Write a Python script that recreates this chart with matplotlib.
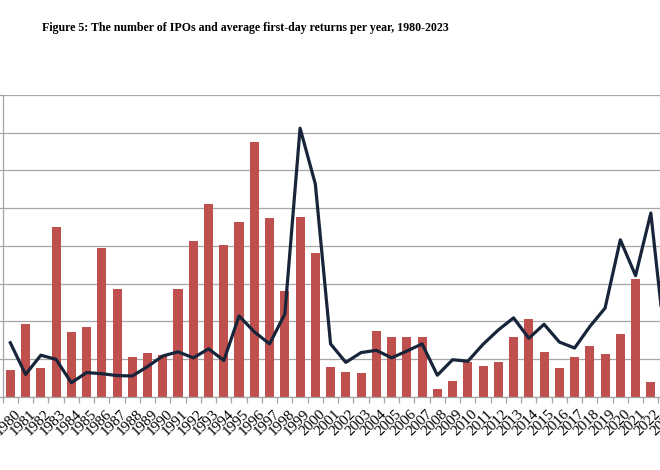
import numpy as np
import matplotlib
matplotlib.use("Agg")
import matplotlib.pyplot as plt
import matplotlib.transforms as mtransforms

years = list(range(1980, 2024))
n_ipos = [71, 192, 77, 451, 171, 186, 393, 285, 105, 116,
          110, 286, 412, 510, 402, 462, 675, 474, 281, 476,
          380, 80, 66, 63, 173, 159, 157, 159, 21, 41,
          91, 81, 93, 158, 206, 118, 75, 106, 134, 112,
          165, 311, 38, 54]
first_day = [14.3, 5.9, 11.0, 9.9, 3.7, 6.4, 6.1, 5.6, 5.5, 8.0,
             10.8, 11.9, 10.3, 12.7, 9.6, 21.4, 17.2, 14.0, 21.9, 71.2,
             56.4, 14.0, 9.1, 11.7, 12.3, 10.3, 12.1, 14.0, 5.7, 9.8,
             9.4, 13.9, 17.7, 20.9, 15.5, 19.2, 14.5, 12.9, 18.6, 23.5,
             41.6, 32.1, 48.7, 11.9]
title = "Figure 5: The number of IPOs and average first-day returns per year, 1980-2023"

plt.rcParams['font.family'] = ['Liberation Serif', 'DejaVu Serif']

fig = plt.figure(figsize=(6.6, 4.7), dpi=100)
# the original is cropped: axis starts at the very left edge and runs past the right edge
ax = fig.add_axes([2.7 / 660, 1 - 396.7 / 470, 671 / 660, (396.7 - 95) / 470])

x = np.arange(len(years))
ax.bar(x, n_ipos, width=0.6, color='#C0504D', zorder=2)
ax.set_xlim(-0.5, len(years) - 0.5)
ax.set_ylim(0, 800)
ax.set_yticks(range(0, 801, 100))
ax.grid(axis='y', color='#A6A6A6', linewidth=0.9, zorder=0)
ax.set_axisbelow(True)
for s in ['top', 'right']:
    ax.spines[s].set_visible(False)
for s in ['left', 'bottom']:
    ax.spines[s].set_color('#A6A6A6')
    ax.spines[s].set_linewidth(0.9)

# category ticks sit between the bars, labels under the bar centres
ax.set_xticks(np.arange(-0.5, len(years), 1), minor=False)
ax.set_xticklabels([])
ax.tick_params(axis='x', length=4, color='#A6A6A6', width=0.9)
ax.tick_params(axis='y', length=4, color='#A6A6A6', width=0.9)
offset = mtransforms.ScaledTranslation(3.5 / 100, -11 / 100, fig.dpi_scale_trans)
for xi, yr in zip(x, years):
    ax.text(xi, 0, str(yr), rotation=45, ha='right', va='top',
            rotation_mode='anchor', fontsize=11,
            transform=ax.get_xaxis_transform() + offset)

ax2 = ax.twinx()
ax2.plot(x, first_day, color='#17243A', linewidth=2.3, zorder=3)
ax2.set_ylim(0, 80)
ax2.set_yticks(range(0, 81, 10))
ax2.set_yticklabels([f"{v}%" for v in range(0, 81, 10)])
for s in ['top', 'left', 'bottom']:
    ax2.spines[s].set_visible(False)
ax2.spines['right'].set_color('#A6A6A6')

fig.text(245 / 660, 1 - 28 / 470, title, ha='center', va='center',
         fontsize=8.6, fontweight='bold')

fig.savefig('out.png', dpi=100)
